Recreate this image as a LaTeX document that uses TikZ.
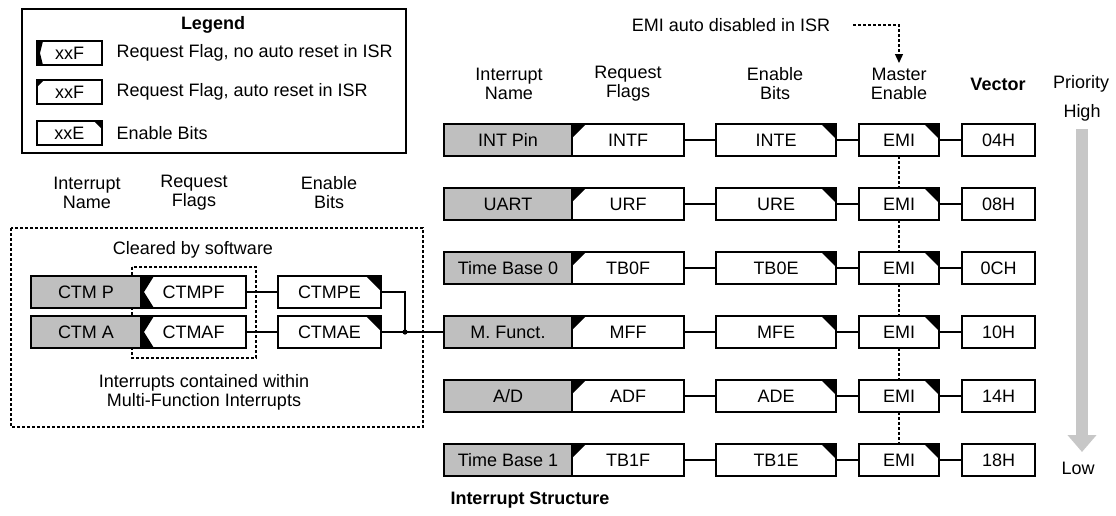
\documentclass[tikz,border=0pt]{standalone}
\usepackage{fontspec}
\setmainfont{Liberation Sans}
\usetikzlibrary{positioning,arrows.meta}

\newcommand{\figfont}{\fontsize{18}{19}\selectfont}

\begin{document}
\begin{tikzpicture}[x=1pt, y=1pt, font=\figfont,
    cell/.style={draw, fill=white, line width=1.5pt, inner sep=0pt, outer sep=0pt, minimum height=32pt},
    namebox/.style={cell, fill=black!25, minimum width=128pt},
    autoflag/.style={cell, path picture={\fill[black] (path picture bounding box.north west) -- ++(#1,0) -- ++(-#1,-#1) -- cycle;}},
    autoflag/.default=14pt,
    softflag/.style={cell, path picture={\fill[black] (path picture bounding box.north west) -- ++(#1,0)
        -- ([xshift=3pt]path picture bounding box.west) -- ([xshift=#1]path picture bounding box.south west)
        -- (path picture bounding box.south west) -- cycle;}},
    softflag/.default=13pt,
    enbox/.style={cell, path picture={\fill[black] (path picture bounding box.north east) -- ++(-#1,0) -- ++(#1,-#1) -- cycle;}},
    enbox/.default=15pt,
    vecbox/.style={cell, minimum width=73pt},
    legcell/.style={minimum width=65pt, minimum height=24pt},
    wire/.style={line width=1.5pt},
    dotline/.style={line width=1.3pt, dash pattern=on 3pt off 2pt},
    head/.style={align=center}]
  \useasboundingbox (0,0) rectangle (1116,-515);

  % legend
  \node[draw, line width=1.5pt, minimum width=384pt, minimum height=144pt] (legend) at (214,-81) {};
  \node[font=\figfont\bfseries] (legtitle) at (213,-25) {Legend};
  \node[softflag=6pt, legcell] (leg1) at (69.5,-53) {xxF};
  \node[anchor=west] (legtxt1) at (113,-53) {Request Flag, no auto reset in ISR};
  \node[autoflag=7pt, legcell] (leg2) at (69.5,-92) {xxF};
  \node[anchor=west] (legtxt2) at (113,-92) {Request Flag, auto reset in ISR};
  \node[enbox=8pt, legcell] (leg3) at (69.5,-133) {xxE};
  \node[anchor=west] (legtxt3) at (113,-133) {Enable Bits};

  % left headers
  \node[head] (lhname) at (87,-193) {Interrupt\\Name};
  \node[head] (lhflag) at (194,-193) {Request\\Flags};
  \node[head] (lhen) at (329,-193) {Enable\\Bits};

  % multi-function group
  \draw[dotline] (11,-228) rectangle (423,-427);
  \draw[dotline] (132,-267) rectangle (256,-358);
  \node (cleared) at (193,-250) {Cleared by software};
  \node[head] (mfnote) at (204,-392) {Interrupts contained within\\Multi-Function Interrupts};

  \node[namebox, minimum width=110pt] (ctmp) at (86,-292) {CTM P};
  \node[softflag, minimum width=105pt, right=0pt of ctmp] (ctmpf) {CTMPF};
  \node[enbox, minimum width=103pt, right=32pt of ctmpf] (ctmpe) {CTMPE};
  \node[namebox, minimum width=110pt] (ctma) at (86,-332) {CTM A};
  \node[softflag, minimum width=105pt, right=0pt of ctma] (ctmaf) {CTMAF};
  \node[enbox, minimum width=103pt, right=32pt of ctmaf] (ctmae) {CTMAE};
  \coordinate (junc) at (405,-332);

  % right headers
  \node (emitxt) at (731,-25) {EMI auto disabled in ISR};
  \node[head] (hname) at (509,-84) {Interrupt\\Name};
  \node[head] (hflag) at (628,-84) {Request\\Flags};
  \node[head] (hen) at (775,-84) {Enable\\Bits};
  \node[head] (hmaster) at (899,-84) {Master\\Enable};
  \node[font=\figfont\bfseries] (hvec) at (998,-84) {Vector};
  \node (hprio) at (1081,-84) {Priority};
  \node (high) at (1082,-113) {High};
  \node (low) at (1078,-468) {Low};

  % interrupt rows
  \node[namebox] (n1) at (508,-140) {INT Pin};
  \node[autoflag, minimum width=112pt, right=0pt of n1] (f1) {INTF};
  \node[enbox, minimum width=120pt, right=32pt of f1] (e1) {INTE};
  \node[enbox, minimum width=80pt, right=23pt of e1] (m1) {EMI};
  \node[vecbox, right=23pt of m1] (v1) {04H};

  \node[namebox] (n2) at (508,-204) {UART};
  \node[autoflag, minimum width=112pt, right=0pt of n2] (f2) {URF};
  \node[enbox, minimum width=120pt, right=32pt of f2] (e2) {URE};
  \node[enbox, minimum width=80pt, right=23pt of e2] (m2) {EMI};
  \node[vecbox, right=23pt of m2] (v2) {08H};

  \node[namebox] (n3) at (508,-268) {Time Base 0};
  \node[autoflag, minimum width=112pt, right=0pt of n3] (f3) {TB0F};
  \node[enbox, minimum width=120pt, right=32pt of f3] (e3) {TB0E};
  \node[enbox, minimum width=80pt, right=23pt of e3] (m3) {EMI};
  \node[vecbox, right=23pt of m3] (v3) {0CH};

  \node[namebox] (n4) at (508,-332) {M. Funct.};
  \node[autoflag, minimum width=112pt, right=0pt of n4] (f4) {MFF};
  \node[enbox, minimum width=120pt, right=32pt of f4] (e4) {MFE};
  \node[enbox, minimum width=80pt, right=23pt of e4] (m4) {EMI};
  \node[vecbox, right=23pt of m4] (v4) {10H};

  \node[namebox] (n5) at (508,-396) {A/D};
  \node[autoflag, minimum width=112pt, right=0pt of n5] (f5) {ADF};
  \node[enbox, minimum width=120pt, right=32pt of f5] (e5) {ADE};
  \node[enbox, minimum width=80pt, right=23pt of e5] (m5) {EMI};
  \node[vecbox, right=23pt of m5] (v5) {14H};

  \node[namebox] (n6) at (508,-460) {Time Base 1};
  \node[autoflag, minimum width=112pt, right=0pt of n6] (f6) {TB1F};
  \node[enbox, minimum width=120pt, right=32pt of f6] (e6) {TB1E};
  \node[enbox, minimum width=80pt, right=23pt of e6] (m6) {EMI};
  \node[vecbox, right=23pt of m6] (v6) {18H};

  % connections
  \draw[wire] (f1) -- (e1) (e1) -- (m1) (m1) -- (v1);
  \draw[wire] (f2) -- (e2) (e2) -- (m2) (m2) -- (v2);
  \draw[wire] (f3) -- (e3) (e3) -- (m3) (m3) -- (v3);
  \draw[wire] (f4) -- (e4) (e4) -- (m4) (m4) -- (v4);
  \draw[wire] (f5) -- (e5) (e5) -- (m5) (m5) -- (v5);
  \draw[wire] (f6) -- (e6) (e6) -- (m6) (m6) -- (v6);
  \draw[wire] (ctmpf) -- (ctmpe) (ctmaf) -- (ctmae);
  \draw[wire] (ctmpe) -| (junc);
  \draw[wire] (ctmae) -- (n4);
  \fill (junc) circle (2.6pt);

  % EMI chain
  \draw[dotline] (m1) -- (m2) (m2) -- (m3) (m3) -- (m4) (m4) -- (m5) (m5) -- (m6);
  \coordinate (emistart) at (853,-25);
  \coordinate (emibend) at (899,-25);
  \coordinate (emitip) at (899,-63);
  \draw[dotline, -{Triangle[length=9pt, width=8pt]}] (emistart) -- (emibend) -- (emitip);

  % priority arrow
  \coordinate (priotop) at (1082,-129);
  \coordinate (priotip) at (1082,-452);
  \draw[line width=12pt, black!22, -{Triangle[length=17pt, width=28pt]}] (priotop) -- (priotip);

  \node[font=\figfont\bfseries] (title) at (530,-500) {Interrupt Structure};
\end{tikzpicture}
\end{document}
